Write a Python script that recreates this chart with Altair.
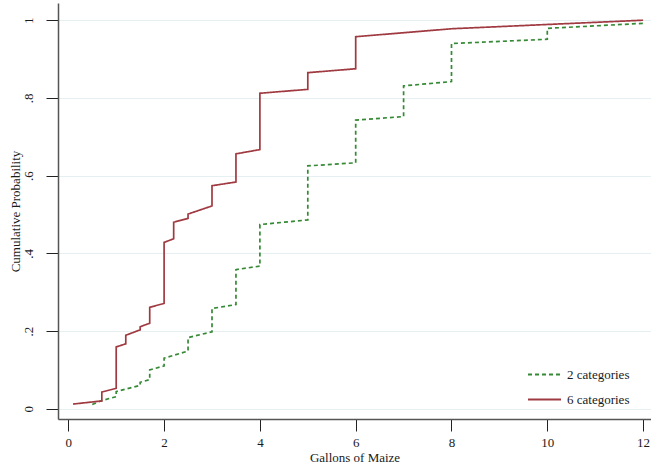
import altair as alt
import pandas as pd

# Empirical CDFs of maize purchases (gallons) under the two category schemes
two_x = [0.5, 0.7, 1, 1, 1.5, 1.5, 1.7, 1.7, 2, 2, 2.5, 2.5, 3, 3, 3.5, 3.5,
         4, 4, 5, 5, 6, 6, 7, 7, 8, 8, 10, 10, 12, 12]
two_p = [0.011, 0.021, 0.031, 0.044, 0.060, 0.068, 0.075, 0.100, 0.110, 0.130,
         0.1485, 0.183, 0.198, 0.258, 0.268, 0.358, 0.367, 0.474, 0.486, 0.625,
         0.633, 0.743, 0.752, 0.831, 0.842, 0.940, 0.951, 0.979, 0.992, 0.999]

six_x = [0.1, 0.7, 0.7, 1, 1, 1.2, 1.2, 1.5, 1.5, 1.7, 1.7, 2, 2, 2.2, 2.2,
         2.5, 2.5, 3, 3, 3.5, 3.5, 4, 4, 5, 5, 6, 6, 8, 12]
six_p = [0.012, 0.020, 0.043, 0.0525, 0.159, 0.167, 0.189, 0.203, 0.211, 0.220,
         0.261, 0.271, 0.428, 0.4375, 0.480, 0.490, 0.501, 0.522, 0.574, 0.5835,
         0.656, 0.667, 0.812, 0.822, 0.865, 0.875, 0.9575, 0.978, 1.0]

series_names = ["2 categories", "6 categories"]
series_colors = ["#358a35", "#a03a41"]
series_dash = [[4, 3], [1, 0]]
x_ticks = [0, 2, 4, 6, 8, 10, 12]
y_ticks = [0, 0.2, 0.4, 0.6, 0.8, 1.0]

rows = []
for name, xs, ps in [(series_names[0], two_x, two_p), (series_names[1], six_x, six_p)]:
    for i, (xv, pv) in enumerate(zip(xs, ps)):
        rows.append({"series": name, "gallons": xv, "prob": pv, "idx": i})
df = pd.DataFrame(rows)

FONT = "Liberation Serif"

legend_opts = dict(title=None, orient="none", legendX=469, legendY=354,
                   symbolType="stroke", symbolSize=1089, symbolStrokeWidth=2,
                   labelOffset=5, rowPadding=-1, padding=0)

chart = alt.Chart(df).mark_line(strokeWidth=1.7, interpolate="linear").encode(
    x=alt.X("gallons:Q",
            scale=alt.Scale(domain=[-0.215, 12.165], nice=False, zero=False),
            axis=alt.Axis(title="Gallons of Maize", values=x_ticks, grid=False,
                          tickSize=12, labelPadding=5, titlePadding=2,
                          domainColor="#555555", domainWidth=1.5,
                          tickColor="#222222", labelFlush=False)),
    y=alt.Y("prob:Q",
            scale=alt.Scale(domain=[-0.0265, 1.0443], nice=False, zero=False),
            axis=alt.Axis(title="Cumulative Probability", values=y_ticks,
                          labelExpr="datum.value == 0 ? '0' : datum.value == 1 ? '1' : replace(format(datum.value, '.1f'), '0.', '.')",
                          labelAngle=270, labelAlign="center", labelBaseline="bottom",
                          tickSize=12, labelPadding=11, titlePadding=0,
                          grid=True, gridColor="#e6eff1", gridWidth=1.2,
                          domainColor="#555555", domainWidth=1.5,
                          tickColor="#222222", labelFlush=False)),
    color=alt.Color("series:N",
                    scale=alt.Scale(domain=series_names, range=series_colors),
                    legend=alt.Legend(**legend_opts)),
    strokeDash=alt.StrokeDash("series:N",
                              scale=alt.Scale(domain=series_names, range=series_dash),
                              legend=alt.Legend(**legend_opts)),
    order=alt.Order("idx:Q"),
).properties(
    width=593, height=416,
    autosize=alt.AutoSizeParams(type="none"),
    padding={"left": 58, "top": 3, "right": 0, "bottom": 46},
).configure_view(
    stroke=None
).configure_axis(
    labelFont=FONT, titleFont=FONT, labelFontSize=13, titleFontSize=13,
    labelColor="#1a1a1a", titleColor="#1a1a1a", titleFontWeight="normal",
).configure_legend(
    labelFont=FONT, labelFontSize=13, labelColor="#1a1a1a",
)

chart.save("out.html", embed_options={"renderer": "svg", "actions": False})
